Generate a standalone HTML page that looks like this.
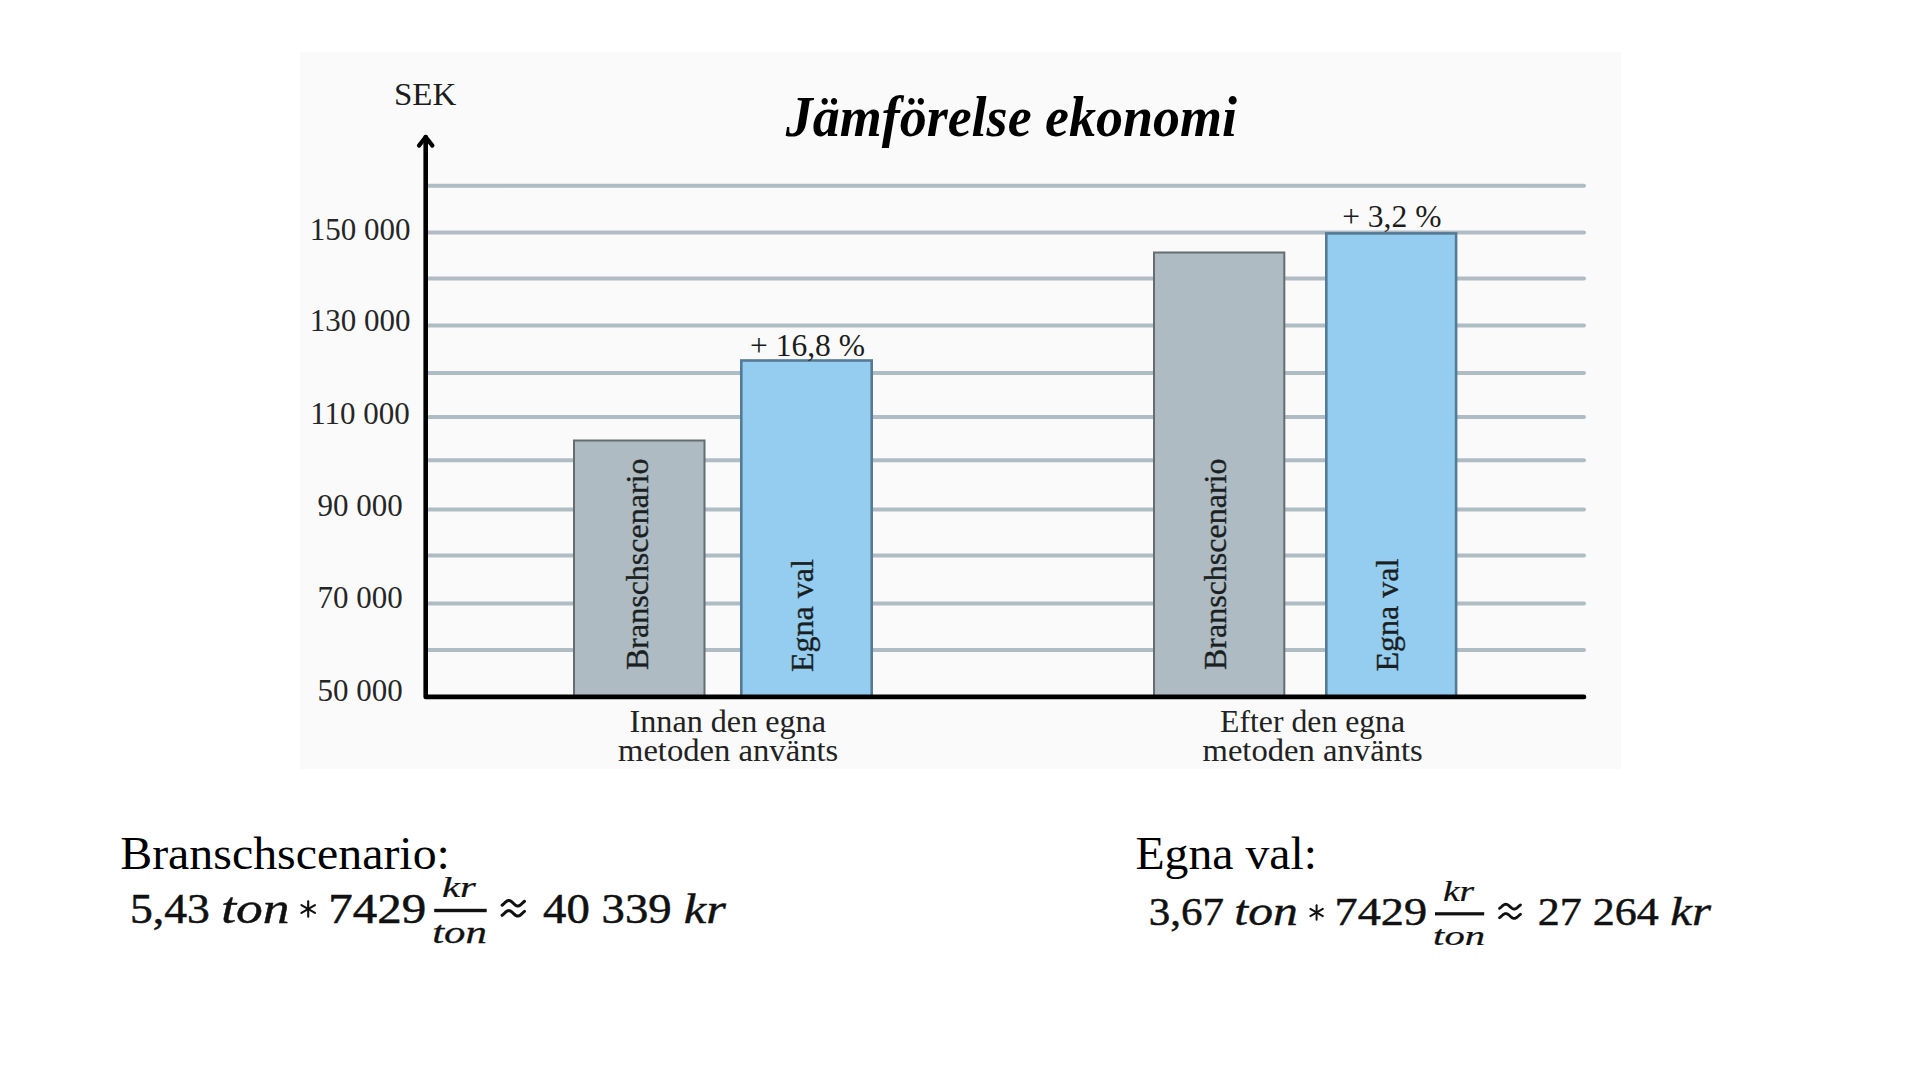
<!DOCTYPE html>
<html><head><meta charset="utf-8">
<style>
html,body{margin:0;padding:0;background:#fff;width:1920px;height:1080px;overflow:hidden}
svg{display:block}
text{font-family:"Liberation Serif",serif}
</style></head>
<body>
<svg width="1920" height="1080" viewBox="0 0 1920 1080">
<rect x="0" y="0" width="1920" height="1080" fill="#ffffff"/>
<rect x="300" y="52" width="1321" height="717" fill="#fafafa"/>
<g stroke="#afbcc4" stroke-width="4" stroke-linecap="round"><line x1="428" y1="185.7" x2="1584" y2="185.7"/><line x1="428" y1="232.5" x2="1584" y2="232.5"/><line x1="428" y1="278.6" x2="1584" y2="278.6"/><line x1="428" y1="325.5" x2="1584" y2="325.5"/><line x1="428" y1="372.9" x2="1584" y2="372.9"/><line x1="428" y1="417" x2="1584" y2="417"/><line x1="428" y1="460.3" x2="1584" y2="460.3"/><line x1="428" y1="509.5" x2="1584" y2="509.5"/><line x1="428" y1="555.5" x2="1584" y2="555.5"/><line x1="428" y1="603.5" x2="1584" y2="603.5"/><line x1="428" y1="650" x2="1584" y2="650"/></g>
<g stroke-width="2">
<rect x="574" y="440.5" width="130.5" height="256" fill="#aebbc3" stroke="#636d72"/>
<rect x="741.3" y="360.5" width="130.4" height="336" fill="#95cdf0" stroke="#557a95" stroke-width="2.6"/>
<rect x="1154" y="252.5" width="130.3" height="444" fill="#aebbc3" stroke="#636d72"/>
<rect x="1326.3" y="233.4" width="129.8" height="463" fill="#95cdf0" stroke="#557a95" stroke-width="2.6"/>
</g>
<g stroke="#000" stroke-width="4.6" fill="none" stroke-linecap="round" stroke-linejoin="round">
<polyline points="425.7,137 425.7,696.9 1584,696.9"/>
<polyline points="419,145.6 425.7,137 432.4,145.6" stroke-width="4.2"/>
</g>
<g font-size="31" text-anchor="middle" fill="#262626"><text x="360" y="240">150 000</text><text x="360" y="330.9">130 000</text><text x="360" y="424.4">110 000</text><text x="360" y="515.6">90 000</text><text x="360" y="608">70 000</text><text x="360" y="700.6">50 000</text></g>
<g font-size="32" fill="#1a1f22" stroke="#1a1f22" stroke-width="0.35">
<text transform="translate(647.5,670) rotate(-90)">Branschscenario</text>
<text transform="translate(813,672) rotate(-90)">Egna val</text>
<text transform="translate(1225.6,670) rotate(-90)">Branschscenario</text>
<text transform="translate(1398,671.5) rotate(-90)">Egna val</text>
</g>
<text transform="translate(393.94,104.80) scale(1.0310,1.0000)" font-size="32" font-style="normal" font-weight="normal" fill="#1c1c1c">SEK</text>
<text transform="translate(785.70,135.60) scale(0.9641,1.0000)" font-size="56" font-style="italic" font-weight="bold" fill="#000">Jämförelse ekonomi</text>
<text transform="translate(749.96,355.70) scale(1.0182,1.0000)" font-size="31" font-style="normal" font-weight="normal" fill="#1c1c1c">+ 16,8 %</text>
<text transform="translate(1342.16,227.10) scale(1.0179,1.0000)" font-size="31" font-style="normal" font-weight="normal" fill="#1c1c1c">+ 3,2 %</text>
<text transform="translate(629.51,731.80) scale(0.9898,1.0000)" font-size="32.5" font-style="normal" font-weight="normal" fill="#222">Innan den egna</text>
<text transform="translate(618.00,760.90) scale(1.0046,1.0000)" font-size="32.5" font-style="normal" font-weight="normal" fill="#222">metoden använts</text>
<text transform="translate(1220.12,731.80) scale(0.9761,1.0000)" font-size="32.5" font-style="normal" font-weight="normal" fill="#222">Efter den egna</text>
<text transform="translate(1202.50,760.90) scale(1.0046,1.0000)" font-size="32.5" font-style="normal" font-weight="normal" fill="#222">metoden använts</text>
<text transform="translate(120.22,868.60) scale(1.0297,1.0000)" font-size="46.5" font-style="normal" font-weight="normal" fill="#000">Branschscenario:</text>
<text transform="translate(1135.47,868.75) scale(1.0262,1.0000)" font-size="46.5" font-style="normal" font-weight="normal" fill="#000">Egna val:</text>
<text transform="translate(130.04,922.50) scale(1.0870,1.0107)" font-size="42" font-style="normal" font-weight="normal" fill="#111" stroke="#111" stroke-width="0.5">5,43</text>
<text transform="translate(221.20,922.50) scale(1.2750,1.0542)" font-size="42" font-style="italic" font-weight="normal" fill="#111" stroke="#111" stroke-width="0.4">ton</text>
<text transform="translate(328.30,922.90) scale(1.1671,1.0179)" font-size="42" font-style="normal" font-weight="normal" fill="#111" stroke="#111" stroke-width="0.5">7429</text>
<text transform="translate(441.95,896.70) scale(1.3542,1.0000)" font-size="30" font-style="italic" font-weight="normal" fill="#111" stroke="#111" stroke-width="0.25">kr</text>
<text transform="translate(432.14,943.30) scale(1.4286,1.0294)" font-size="30" font-style="italic" font-weight="normal" fill="#111" stroke="#111" stroke-width="0.25">ton</text>
<text transform="translate(543.09,922.50) scale(1.1133,1.0107)" font-size="42" font-style="normal" font-weight="normal" fill="#111" stroke="#111" stroke-width="0.5">40 339</text>
<text transform="translate(683.80,922.50) scale(1.2000,1.0000)" font-size="42" font-style="italic" font-weight="normal" fill="#111" stroke="#111" stroke-width="0.4">kr</text>
<text transform="translate(1148.75,925.00) scale(1.0243,0.9536)" font-size="42" font-style="normal" font-weight="normal" fill="#111" stroke="#111" stroke-width="0.5">3,67</text>
<text transform="translate(1234.34,925.00) scale(1.1820,0.9958)" font-size="42" font-style="italic" font-weight="normal" fill="#111" stroke="#111" stroke-width="0.4">ton</text>
<text transform="translate(1334.59,925.20) scale(1.1025,0.9607)" font-size="42" font-style="normal" font-weight="normal" fill="#111" stroke="#111" stroke-width="0.5">7429</text>
<text transform="translate(1442.95,900.80) scale(1.2500,0.9550)" font-size="30" font-style="italic" font-weight="normal" fill="#111" stroke="#111" stroke-width="0.25">kr</text>
<text transform="translate(1433.09,945.00) scale(1.3571,0.9294)" font-size="30" font-style="italic" font-weight="normal" fill="#111" stroke="#111" stroke-width="0.25">ton</text>
<text transform="translate(1537.70,925.00) scale(1.0487,0.9536)" font-size="42" font-style="normal" font-weight="normal" fill="#111" stroke="#111" stroke-width="0.5">27 264</text>
<text transform="translate(1670.34,924.70) scale(1.1647,0.9333)" font-size="42" font-style="italic" font-weight="normal" fill="#111" stroke="#111" stroke-width="0.4">kr</text>
<g fill="#111">
<rect x="434.2" y="908.8" width="52.5" height="3.4"/>
<rect x="1435" y="912.2" width="49.2" height="3.2"/>
</g>
<g stroke="#111" stroke-width="2.1" stroke-linecap="round"><line x1="308.20" y1="901.20" x2="308.20" y2="916.80"/><line x1="301.45" y1="905.10" x2="314.95" y2="912.90"/><line x1="314.95" y1="905.10" x2="301.45" y2="912.90"/></g>
<g stroke="#111" stroke-width="2.0" stroke-linecap="round"><line x1="1316.60" y1="905.30" x2="1316.60" y2="919.70"/><line x1="1310.36" y1="908.90" x2="1322.84" y2="916.10"/><line x1="1322.84" y1="908.90" x2="1310.36" y2="916.10"/></g>
<g fill="none" stroke="#111" stroke-width="3.0" stroke-linecap="round" stroke-linejoin="round"><polyline points="502.10,905.19 503.03,904.47 503.97,903.61 504.90,902.71 505.83,901.88 506.77,901.18 507.70,900.71 508.63,900.51 509.57,900.59 510.50,900.96 511.43,901.58 512.37,902.37 513.30,903.25 514.23,904.13 515.17,904.92 516.10,905.54 517.03,905.91 517.97,905.99 518.90,905.79 519.83,905.32 520.77,904.62 521.70,903.79 522.63,902.89 523.57,902.03 524.50,901.31"/><polyline points="502.10,915.29 503.03,914.57 503.97,913.71 504.90,912.81 505.83,911.98 506.77,911.28 507.70,910.81 508.63,910.61 509.57,910.69 510.50,911.06 511.43,911.68 512.37,912.47 513.30,913.35 514.23,914.23 515.17,915.02 516.10,915.64 517.03,916.01 517.97,916.09 518.90,915.89 519.83,915.42 520.77,914.73 521.70,913.89 522.63,912.99 523.57,912.13 524.50,911.41"/></g>
<g fill="none" stroke="#111" stroke-width="2.8" stroke-linecap="round" stroke-linejoin="round"><polyline points="1499.50,908.38 1500.38,907.73 1501.25,906.97 1502.12,906.17 1503.00,905.42 1503.88,904.81 1504.75,904.39 1505.62,904.21 1506.50,904.28 1507.38,904.61 1508.25,905.16 1509.12,905.86 1510.00,906.65 1510.88,907.44 1511.75,908.14 1512.62,908.69 1513.50,909.02 1514.38,909.09 1515.25,908.91 1516.12,908.49 1517.00,907.88 1517.88,907.13 1518.75,906.33 1519.62,905.57 1520.50,904.92"/><polyline points="1499.50,917.73 1500.38,917.08 1501.25,916.32 1502.12,915.52 1503.00,914.77 1503.88,914.16 1504.75,913.74 1505.62,913.56 1506.50,913.63 1507.38,913.96 1508.25,914.51 1509.12,915.21 1510.00,916.00 1510.88,916.79 1511.75,917.49 1512.62,918.04 1513.50,918.37 1514.38,918.44 1515.25,918.26 1516.12,917.84 1517.00,917.23 1517.88,916.48 1518.75,915.68 1519.62,914.92 1520.50,914.27"/></g>
</svg>
</body></html>
